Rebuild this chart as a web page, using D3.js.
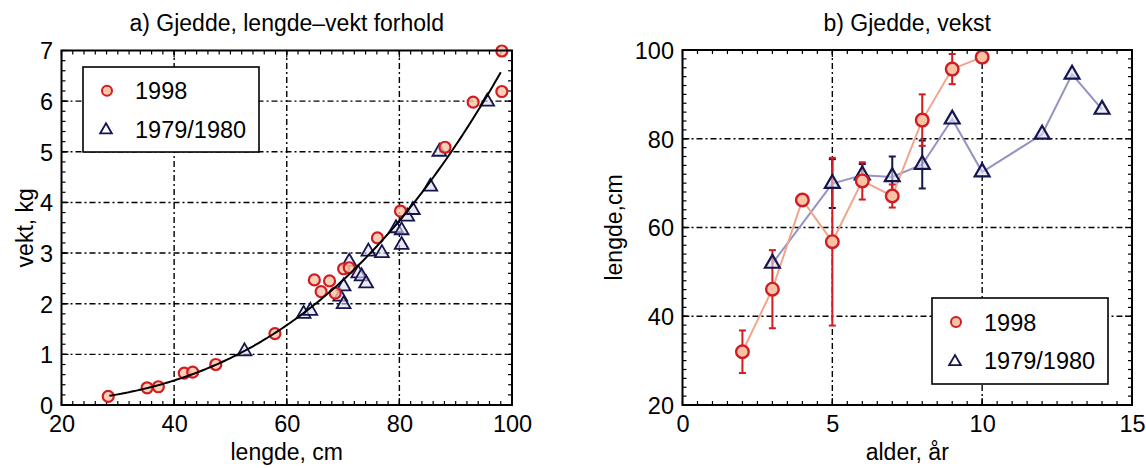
<!DOCTYPE html>
<html>
<head>
<meta charset="utf-8">
<script src="https://cdn.jsdelivr.net/npm/d3@7"></script>
<style>
  body { margin: 0; background: #fff; }
  svg { display: block; }
  text { font-family: 'Liberation Sans', Arial, Helvetica, sans-serif; fill: #000; }
</style>
</head>
<body>
<svg id="chart" width="1146" height="468"></svg>
<script>
// ---- a) length–weight relationship ----
const lengde1998 = [28.3, 35.2, 37.2, 41.8, 43.3, 47.4, 57.9, 64.9, 66.1, 67.6, 68.6, 70.1, 71.1, 76.1, 80.2, 88.1, 93.1, 98.2, 98.2];
const vekt1998   = [0.17, 0.34, 0.36, 0.63, 0.65, 0.80, 1.41, 2.47, 2.24, 2.45, 2.21, 2.69, 2.71, 3.30, 3.83, 5.09, 5.98, 6.99, 6.19];
const lengde1979 = [52.5, 63.0, 64.2, 69.5, 70.1, 70.1, 71.1, 72.7, 73.3, 74.1, 74.5, 76.9, 79.4, 80.4, 80.4, 81.4, 82.4, 85.5, 87.1, 95.6];
const vekt1979   = [1.06, 1.80, 1.86, 2.14, 1.99, 2.34, 2.83, 2.60, 2.54, 2.40, 3.03, 3.00, 3.49, 3.45, 3.16, 3.72, 3.85, 4.31, 5.00, 5.99];
// fitted power law: vekt = fitA * lengde^fitB
const fitA = 1.0546e-5;
const fitB = 2.91;
const fitRange = [28.5, 98];

// ---- b) growth: mean length by age, with spread ----
const alder1998 = [2, 3, 4, 5, 6, 7, 8, 9, 10];
const lengdeAlder1998 = [32.0, 46.1, 66.2, 56.8, 70.5, 67.1, 84.2, 95.7, 98.4];
const spredning1998   = [4.8, 8.8, null, 18.9, 4.2, 2.6, 5.8, 3.4, null];
const alder1979 = [3, 5, 6, 7, 8, 9, 10, 12, 13, 14];
const lengdeAlder1979 = [51.9, 69.9, 71.8, 71.4, 74.2, 84.4, 72.5, 81.0, 94.5, 86.6];
const spredning1979   = [null, 5.5, 2.5, 4.6, 5.4, null, null, null, null, null];

// ---- axis ticks and labels ----
const xTicksA = [20, 40, 60, 80, 100];
const yTicksA = [0, 1, 2, 3, 4, 5, 6, 7];
const xTicksB = [0, 5, 10, 15];
const yTicksB = [20, 40, 60, 80, 100];
const titleA = "a) Gjedde, lengde\u2013vekt forhold";
const titleB = "b) Gjedde, vekst";
const xLabelA = "lengde, cm";
const yLabelA = "vekt, kg";
const xLabelB = "alder, år";
const yLabelB = "lengde,cm";
const seriesNames = ["1998", "1979/1980"];

// ---- styling ----
const RED = "#d21c22";
const PEACH = "#f7c3a6";
const NAVY = "#15164e";
const LAVENDER = "#dcdcef";
const LINE98 = "#f0a68c";
const LINE79 = "#9494c4";
const GRID_DASH = "6,3,2,3";
const TICK_FONT = 23.5;

const svg = d3.select("#chart");
const tri = d3.symbol().type(d3.symbolTriangle);

function panel(opts) {
  const { x, y, xTicks, yTicks, xGrid, yGrid, xMinor, yMinor } = opts;
  const g = svg.append("g");
  const [x0, x1] = x.range();
  const [y0, y1] = y.range();

  // grid
  g.append("g").selectAll("line").data(xGrid).join("line")
    .attr("x1", d => x(d)).attr("x2", d => x(d)).attr("y1", y0).attr("y2", y1)
    .attr("stroke", "#000").attr("stroke-width", 1.4).attr("stroke-dasharray", GRID_DASH);
  g.append("g").selectAll("line").data(yGrid).join("line")
    .attr("y1", d => y(d)).attr("y2", d => y(d)).attr("x1", x0).attr("x2", x1)
    .attr("stroke", "#000").attr("stroke-width", 1.4).attr("stroke-dasharray", GRID_DASH);

  // inward ticks on all four sides
  const tk = g.append("g").attr("stroke", "#000").attr("stroke-width", 1.2);
  const xt = [...xMinor.map(v => [v, 4]), ...xTicks.map(v => [v, 7])];
  const yt = [...yMinor.map(v => [v, 4]), ...yTicks.map(v => [v, 7])];
  xt.forEach(([v, L]) => {
    tk.append("line").attr("x1", x(v)).attr("x2", x(v)).attr("y1", y0).attr("y2", y0 - L);
    tk.append("line").attr("x1", x(v)).attr("x2", x(v)).attr("y1", y1).attr("y2", y1 + L);
  });
  yt.forEach(([v, L]) => {
    tk.append("line").attr("y1", y(v)).attr("y2", y(v)).attr("x1", x0).attr("x2", x0 + L);
    tk.append("line").attr("y1", y(v)).attr("y2", y(v)).attr("x1", x1).attr("x2", x1 - L);
  });

  // tick labels via d3 axes
  const ax = g.append("g").attr("transform", `translate(0,${y0})`)
    .call(d3.axisBottom(x).tickValues(xTicks).tickSize(0).tickPadding(10).tickFormat(d3.format("d")));
  const ay = g.append("g").attr("transform", `translate(${x0},0)`)
    .call(d3.axisLeft(y).tickValues(yTicks).tickSize(0).tickPadding(8.5).tickFormat(d3.format("d")));
  [ax, ay].forEach(a => {
    a.select(".domain").remove();
    a.selectAll("text").attr("font-size", TICK_FONT).attr("fill", "#000")
      .style("font-family", "'Liberation Sans', Arial, sans-serif");
  });
  ay.selectAll("text").attr("dy", "0.36em");

  // title and axis labels
  const cx = (x0 + x1) / 2, cy = (y0 + y1) / 2;
  g.append("text").attr("x", cx).attr("y", 31).attr("text-anchor", "middle")
    .attr("font-size", 23).text(opts.title);
  g.append("text").attr("x", cx).attr("y", 460).attr("text-anchor", "middle")
    .attr("font-size", 23).text(opts.xLabel);
  g.append("text").attr("transform", `translate(${opts.yLabelX},${cy}) rotate(-90)`)
    .attr("text-anchor", "middle").attr("font-size", 23).text(opts.yLabel);

  const plot = svg.append("g");
  return { g, plot, frame: () => svg.append("rect")
    .attr("x", x0).attr("y", y1).attr("width", x1 - x0).attr("height", y0 - y1)
    .attr("fill", "none").attr("stroke", "#000").attr("stroke-width", 2) };
}

function legend(x0, y0, w, h, rows, circleR, triSize) {
  const lg = svg.append("g");
  lg.append("rect").attr("x", x0).attr("y", y0).attr("width", w).attr("height", h)
    .attr("fill", "#fff").attr("stroke", "#000").attr("stroke-width", 1.6);
  rows.forEach((r, i) => {
    const cy = y0 + h * (i === 0 ? 0.28 : 0.73);
    if (i === 0) {
      lg.append("circle").attr("cx", x0 + 24).attr("cy", cy).attr("r", circleR)
        .attr("fill", PEACH).attr("stroke", RED).attr("stroke-width", 2);
    } else {
      lg.append("path").attr("d", tri.size(triSize)())
        .attr("transform", `translate(${x0 + 23},${cy + 1})`)
        .attr("fill", "#fff").attr("stroke", NAVY).attr("stroke-width", 1.8);
    }
    lg.append("text").attr("x", x0 + 52).attr("y", cy).attr("dy", "0.36em")
      .attr("font-size", TICK_FONT).text(r);
  });
}

// ================= Panel a =================
const xA = d3.scaleLinear().domain([20, 100]).range([61.5, 512]);
const yA = d3.scaleLinear().domain([0, 7]).range([405, 50.5]);
const pA = panel({
  x: xA, y: yA, xTicks: xTicksA, yTicks: yTicksA,
  xGrid: [40, 60, 80], yGrid: [1, 2, 3, 4, 5, 6],
  xMinor: d3.range(20, 100.01, 2), yMinor: d3.range(0, 7.001, 0.2),
  title: titleA, xLabel: xLabelA, yLabel: yLabelA, yLabelX: 33
});

pA.plot.append("g").selectAll("path").data(d3.zip(lengde1979, vekt1979)).join("path")
  .attr("d", tri.size(82)())
  .attr("transform", d => `translate(${xA(d[0])},${yA(d[1])})`)
  .attr("fill", LAVENDER).attr("fill-opacity", 0.6)
  .attr("stroke", NAVY).attr("stroke-width", 1.8);

pA.plot.append("g").selectAll("circle").data(d3.zip(lengde1998, vekt1998)).join("circle")
  .attr("cx", d => xA(d[0])).attr("cy", d => yA(d[1])).attr("r", 5.5)
  .attr("fill", PEACH).attr("fill-opacity", 0.8)
  .attr("stroke", RED).attr("stroke-width", 2.2);

const fitPts = d3.range(fitRange[0], fitRange[1] + 0.001, 0.5).map(L => [L, fitA * Math.pow(L, fitB)]);
pA.plot.append("path").datum(fitPts)
  .attr("d", d3.line().x(d => xA(d[0])).y(d => yA(d[1])).curve(d3.curveMonotoneX))
  .attr("fill", "none").attr("stroke", "#000").attr("stroke-width", 2);

legend(83, 67, 176, 85, seriesNames, 5, 60);
pA.frame();

// ================= Panel b =================
const xB = d3.scaleLinear().domain([0, 15]).range([682.5, 1132]);
const yB = d3.scaleLinear().domain([20, 100]).range([405, 50]);
const pB = panel({
  x: xB, y: yB, xTicks: xTicksB, yTicks: yTicksB,
  xGrid: [5, 10], yGrid: [40, 60, 80],
  xMinor: d3.range(0, 15.001, 0.5), yMinor: d3.range(20, 100.01, 2),
  title: titleB, xLabel: xLabelB, yLabel: yLabelB, yLabelX: 622
});

const lineB = d3.line().x(d => xB(d[0])).y(d => yB(d[1]));
const s98 = d3.zip(alder1998, lengdeAlder1998, spredning1998);
const s79 = d3.zip(alder1979, lengdeAlder1979, spredning1979);

pB.plot.append("path").datum(s79).attr("d", lineB)
  .attr("fill", "none").attr("stroke", LINE79).attr("stroke-width", 2);
pB.plot.append("path").datum(s98).attr("d", lineB)
  .attr("fill", "none").attr("stroke", LINE98).attr("stroke-width", 2);

function errorBars(data, color) {
  const eb = pB.plot.append("g").attr("stroke", color).attr("stroke-width", 2);
  data.filter(d => d[2] != null).forEach(([a, m, s]) => {
    const cx = xB(a);
    eb.append("line").attr("x1", cx).attr("x2", cx).attr("y1", yB(m - s)).attr("y2", yB(m + s));
    [m - s, m + s].forEach(v => eb.append("line")
      .attr("x1", cx - 3.5).attr("x2", cx + 3.5).attr("y1", yB(v)).attr("y2", yB(v)));
  });
}
errorBars(s79, NAVY);
errorBars(s98, RED);

pB.plot.append("g").selectAll("path").data(s79).join("path")
  .attr("d", tri.size(96)())
  .attr("transform", d => `translate(${xB(d[0])},${yB(d[1])})`)
  .attr("fill", LAVENDER).attr("fill-opacity", 0.6)
  .attr("stroke", NAVY).attr("stroke-width", 2.2);

pB.plot.append("g").selectAll("circle").data(s98).join("circle")
  .attr("cx", d => xB(d[0])).attr("cy", d => yB(d[1])).attr("r", 6.3)
  .attr("fill", PEACH).attr("stroke", RED).attr("stroke-width", 2.4);

legend(932, 298, 176, 86, seriesNames, 5, 60);
pB.frame();
</script>
</body>
</html>
